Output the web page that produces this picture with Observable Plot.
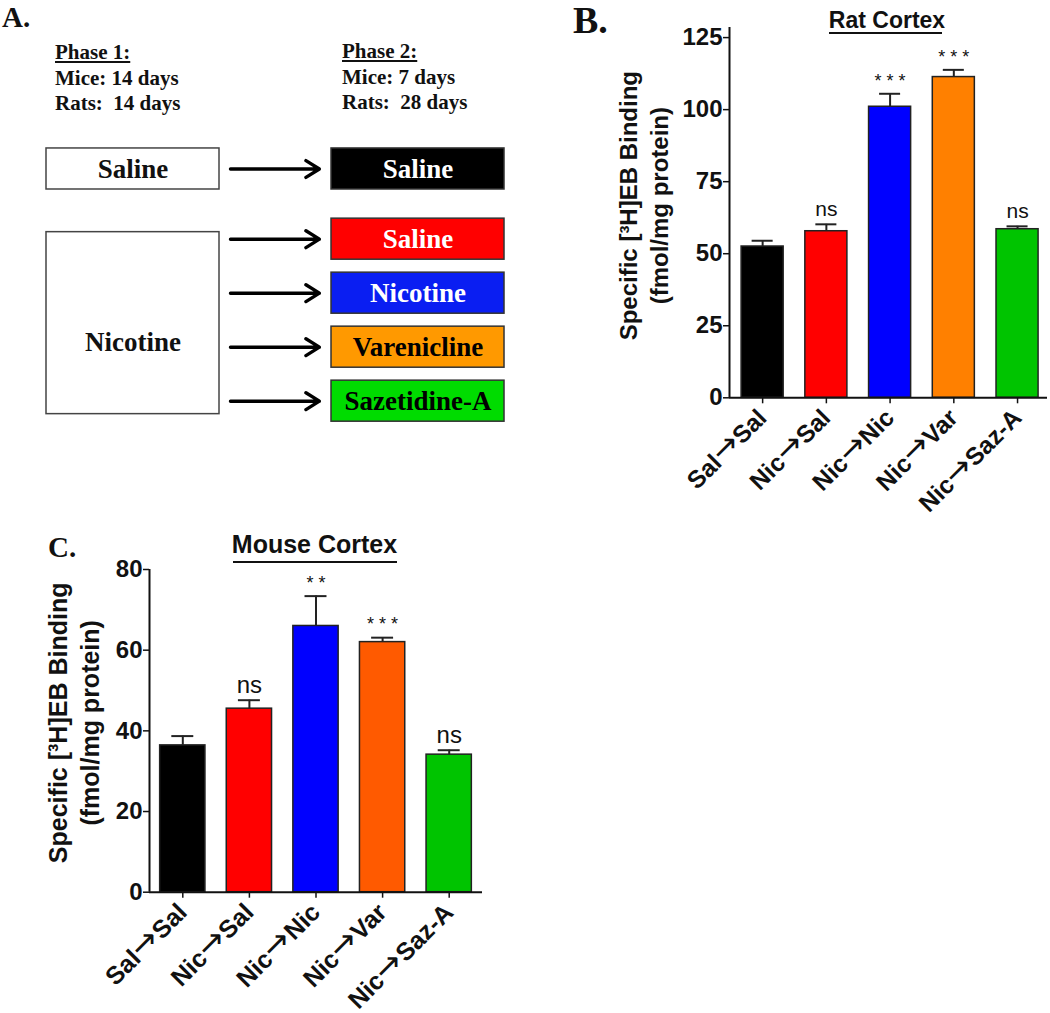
<!DOCTYPE html>
<html><head><meta charset="utf-8">
<script src="https://cdn.jsdelivr.net/npm/d3@7"></script>
<script src="https://cdn.jsdelivr.net/npm/@observablehq/plot@0.6"></script>
<style>
@font-face{font-family:"ArrowGlyph";src:local("DejaVu Sans"),local("DejaVuSans");unicode-range:U+2192;size-adjust:130%;font-weight:100 900;}
body{margin:0;background:#fff;}
#fig{position:relative;width:1050px;height:1013px;overflow:hidden;background:#fff;}
#fig svg{position:absolute;font-synthesis:none;}
.abs{position:absolute;white-space:pre;line-height:1;}
.serif{font-family:"Liberation Serif","Times New Roman",serif;font-weight:bold;color:#111;}
.sans{font-family:"Liberation Sans",Arial,sans-serif;font-weight:bold;color:#111;}
.rule{position:absolute;height:2px;background:#111;}
</style></head><body><div id="fig"></div>
<script>
// ---------- data ----------
const groups = ["Sal→Sal", "Nic→Sal", "Nic→Nic", "Nic→Var", "Nic→Saz-A"];
const ratMean = [52.5, 57.8, 101.0, 111.3, 58.5];
const ratSem = [2.0, 2.4, 4.5, 2.5, 1.0];
const ratSig = ["", "ns", "***", "***", "ns"];
const ratColors = ["#000000", "#ff0000", "#0000ff", "#ff8000", "#00c400"];
const ratTicks = [0, 25, 50, 75, 100, 125];

const mouseMean = [36.4, 45.5, 66.0, 62.0, 34.1];
const mouseSem = [2.3, 2.1, 7.4, 1.1, 1.1];
const mouseSig = ["", "ns", "**", "***", "ns"];
const mouseColors = ["#000000", "#ff0000", "#0000ff", "#ff5a00", "#00c400"];
const mouseTicks = [0, 20, 40, 60, 80];

const yLabel = "Specific [³H]EB Binding\n(fmol/mg protein)";

// Panel A (design diagram)
const phase1Boxes = ["Saline", "Nicotine"];
const phase2Boxes = ["Saline", "Saline", "Nicotine", "Varenicline", "Sazetidine-A"];
const phase2Fill = ["#000000", "#ff0000", "#0a1ef2", "#ff9900", "#00dc00"];
const phase2Text = ["#ffffff", "#ffffff", "#ffffff", "#000000", "#000000"];
const phase1Lines = ["Phase 1:", "Mice: 14 days", "Rats:  14 days"];
const phase2Lines = ["Phase 2:", "Mice: 7 days", "Rats:  28 days"];

const fig = document.getElementById("fig");
const SANS = "ArrowGlyph, Liberation Sans, Arial, sans-serif";
const SERIF = "Liberation Serif, Times New Roman, serif";

function place(el, left, top) {
  el.style.left = left + "px"; el.style.top = top + "px";
  fig.appendChild(el);
}
function label(text, cls, size, left, top, extra) {
  const d = document.createElement("div");
  d.className = "abs " + cls;
  d.style.fontSize = size + "px";
  d.textContent = text;
  if (extra) Object.assign(d.style, extra);
  place(d, left, top);
  return d;
}

// ---------- Panel A ----------
const rowPos = i => (i === 0 ? 0 : i + 0.3);
const p2 = phase2Boxes.map((name, i) => ({name, y: rowPos(i), fill: phase2Fill[i], tc: phase2Text[i]}));
const p1 = [
  {name: phase1Boxes[0], y1: rowPos(0) - 0.38, y2: rowPos(0) + 0.38, ty: rowPos(0)},
  {name: phase1Boxes[1], y1: rowPos(1) - 0.13, y2: rowPos(4) + 0.24, ty: rowPos(3) - 0.09}
];
const boxHalf = 0.3035;
const plotA = Plot.plot({
  width: 520, height: 430, margin: 0,
  style: {background: "transparent", overflow: "visible"},
  x: {domain: [-0.4649, 1.3596], axis: null},
  y: {domain: [-3.12, 4.843], reverse: true, axis: null},
  marks: [
    Plot.rect(p1, {x1: -boxHalf, x2: boxHalf, y1: "y1", y2: "y2", fill: "#fff", stroke: "#444", strokeWidth: 1.5}),
    Plot.text(p1, {x: 0, y: "ty", text: "name", fontSize: 27, fontWeight: "bold", fontFamily: SERIF, fill: "#111"}),
    Plot.rect(p2, {x1: 1 - boxHalf, x2: 1 + boxHalf, y1: d => d.y - 0.38, y2: d => d.y + 0.38, fill: "fill", stroke: "#333", strokeWidth: 1.5}),
    Plot.text(p2, {x: 1, y: "y", text: "name", fill: "tc", fontSize: 27, fontWeight: "bold", fontFamily: SERIF}),
    Plot.arrow(p2, {x1: 0.342, x2: 0.654, y1: "y", y2: "y", stroke: "#000", strokeWidth: 3.4, headLength: 7, headAngle: 64})
  ]
});
place(plotA, 0, 0);

// ---------- bar chart builder ----------
function barChart(o) {
  const data = groups.map((g, i) => ({i, g, mean: o.means[i], top: o.means[i] + o.sems[i], sig: o.sigs[i], color: o.colors[i]}));
  const stars = data.filter(d => d.sig.startsWith("*"));
  const ns = data.filter(d => d.sig === "ns");
  return Plot.plot({
    width: o.width, height: o.height,
    marginTop: o.mt, marginLeft: o.ml, marginRight: o.mr, marginBottom: o.mb,
    style: {fontFamily: SANS, background: "transparent", color: "#111", overflow: "visible"},
    x: {domain: o.xDomain, axis: null},
    y: {domain: [0, o.yMax], axis: null},
    marks: [
      Plot.rectY(data, {x1: d => d.i - o.barHalf, x2: d => d.i + o.barHalf, y1: 0, y2: "mean", fill: "color", stroke: "#222", strokeWidth: 1.5}),
      Plot.ruleX(data, {x: "i", y1: "mean", y2: "top", stroke: "#222", strokeWidth: 2}),
      Plot.ruleY(data, {y: "top", x1: d => d.i - o.capHalf, x2: d => d.i + o.capHalf, stroke: "#222", strokeWidth: 2}),
      Plot.text(ns, {x: "i", y: "top", text: "sig", dy: -15, fontSize: o.nsSize, fill: "#111"}),
      Plot.text(stars, {x: "i", y: "top", text: d => d.sig.split("").join(" "), dy: -13, fontSize: 18, fill: "#111"}),
      Plot.axisY({ticks: o.ticks, tickSize: 6, tickPadding: 1, fontSize: o.fs, fontWeight: "bold", strokeWidth: 1.5, label: null}),
      Plot.axisX({ticks: groups.map((g, i) => i), tickFormat: i => groups[i], tickRotate: -45, tickSize: 6, tickPadding: 10, fontSize: o.xfs, fontWeight: "bold", strokeWidth: 1.5, label: null}),
      Plot.ruleX([o.xDomain[0]], {stroke: "#111", strokeWidth: 2}),
      Plot.ruleY([0], {stroke: "#111", strokeWidth: 2}),
      Plot.text([yLabel], {frameAnchor: "left", textAnchor: "middle", rotate: -90, dx: o.ldx, dy: o.ldy, fontSize: o.lfs, fontWeight: "bold", lineHeight: 1.28, fill: "#111"})
    ]
  });
}

// ---------- Panel B (rat) ----------
const plotB = barChart({
  means: ratMean, sems: ratSem, sigs: ratSig, colors: ratColors, ticks: ratTicks, yMax: 128.5,
  width: 450, height: 540, mt: 27, ml: 129, mr: 3, mb: 142.7,
  xDomain: [-0.52, 4.47], barHalf: 0.33, capHalf: 0.165, fs: 24, xfs: 24.5, nsSize: 21, lfs: 24, ldx: -86.5, ldy: -7
});
place(plotB, 600, 0);

// ---------- Panel C (mouse) ----------
const plotC = barChart({
  means: mouseMean, sems: mouseSem, sigs: mouseSig, colors: mouseColors, ticks: mouseTicks, yMax: 80,
  width: 520, height: 493, mt: 49, ml: 149, mr: 38, mb: 121.3,
  xDomain: [-0.5, 4.5], barHalf: 0.34, capHalf: 0.165, fs: 24, xfs: 25, nsSize: 24, lfs: 25, ldx: -76.5, ldy: -8
});
place(plotC, 0, 520);

// ---------- titles and letters ----------
label("A.", "serif", 29, 2, 1, {lineHeight: "32px"});
label("B.", "serif", 38, 573, 0, {lineHeight: "41.4px"});
label("C.", "serif", 29, 48, 533);

const h1 = label(phase1Lines.join("\n"), "serif", 21, 55, 40, {lineHeight: "25.7px"});
const h2 = label(phase2Lines.join("\n"), "serif", 21, 342, 39, {lineHeight: "25.7px"});
[h1, h2].forEach(h => {
  const lines = h.textContent.split("\n");
  h.innerHTML = "";
  lines.forEach((t, k) => {
    const s = document.createElement("div");
    s.textContent = t;
    if (k === 0) s.style.textDecoration = "underline";
    h.appendChild(s);
  });
});

label("Rat Cortex", "sans", 23, 787, 8.5, {width: "200px", textAlign: "center"});
const u1 = document.createElement("div"); u1.className = "rule"; u1.style.width = "113px"; place(u1, 829, 32);
label("Mouse Cortex", "sans", 25, 214.5, 532, {width: "200px", textAlign: "center"});
const u2 = document.createElement("div"); u2.className = "rule"; u2.style.width = "164px"; place(u2, 233, 561);
</script></body></html>
